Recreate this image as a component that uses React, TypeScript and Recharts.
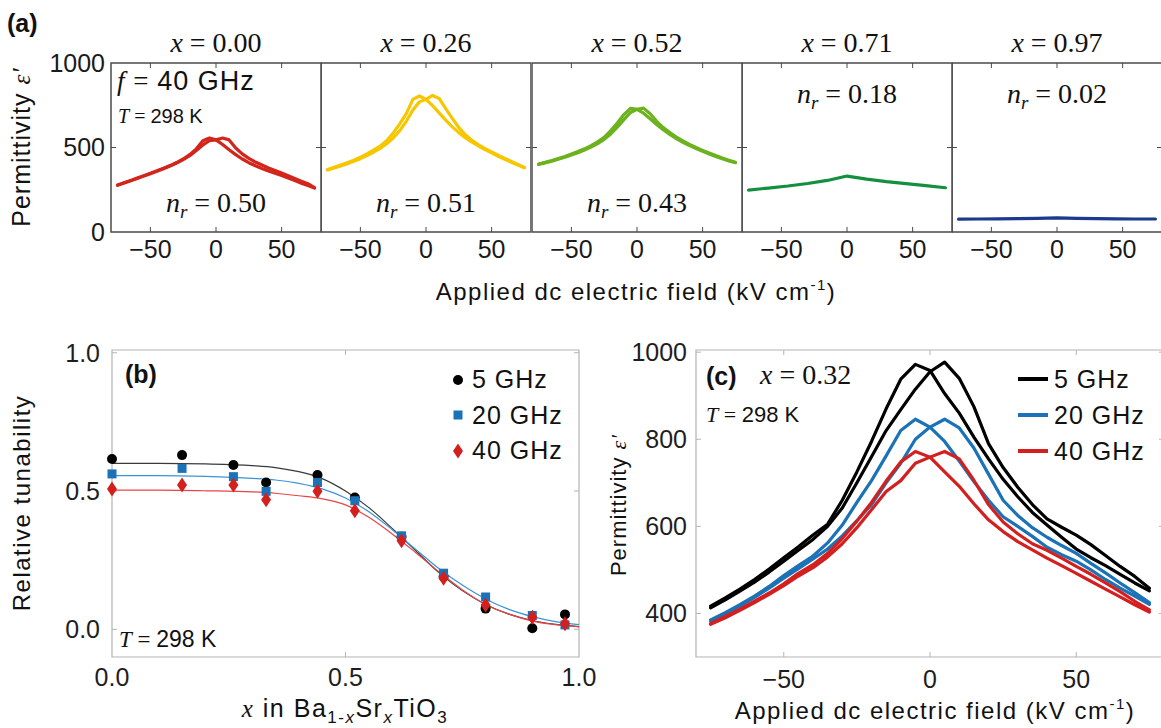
import React from 'react';
import { LineChart, Line, XAxis, YAxis, ComposedChart, Scatter, Legend, ReferenceArea, ReferenceLine } from 'recharts';

// ---------------- DATA ----------------
// shared field axis (kV/cm)
const FIELD = [-75, -70, -65, -60, -55, -50, -45, -40, -35, -30, -25, -20, -15, -10, -5, 0, 5, 10, 15, 20, 25, 30, 35, 40, 45, 50, 55, 60, 65, 70, 75];
const FIELD_SPARSE = [-75, -60, -45, -30, -15, 0, 15, 30, 45, 60, 75];

// (a) 40 GHz sweeps for each composition
const A_TITLES = ['0.00', '0.26', '0.52', '0.71', '0.97'];
const NR_VALUES = ['0.50', '0.51', '0.43', '0.18', '0.02'];
const X000_DOWN = [278, 292, 305, 319, 333, 348, 362, 377, 393, 411, 432, 458, 492, 540, 556, 545, 518, 487, 458, 432, 410, 392, 376, 361, 347, 334, 319, 304, 289, 275, 260];
const X000_UP = [276, 290, 303, 317, 331, 345, 359, 374, 390, 408, 428, 452, 482, 515, 540, 545, 556, 545, 497, 462, 436, 414, 396, 379, 364, 349, 333, 317, 301, 286, 262];
const X026_DOWN = [370, 383, 396, 410, 425, 442, 462, 484, 508, 540, 585, 640, 700, 785, 805, 785, 748, 705, 662, 622, 588, 558, 532, 509, 488, 468, 448, 430, 413, 396, 380];
const X026_UP = [367, 379, 391, 404, 418, 434, 452, 472, 495, 522, 556, 600, 655, 722, 770, 785, 808, 790, 730, 672, 618, 575, 543, 516, 493, 474, 455, 436, 418, 400, 382];
const X052_DOWN = [402, 412, 423, 435, 447, 461, 476, 492, 511, 533, 560, 600, 645, 695, 732, 726, 703, 670, 636, 605, 578, 553, 531, 511, 494, 478, 462, 447, 433, 421, 410];
const X052_UP = [400, 409, 419, 430, 442, 455, 469, 485, 503, 523, 548, 580, 620, 665, 707, 726, 733, 700, 655, 618, 588, 562, 539, 518, 500, 483, 467, 452, 438, 425, 413];
const X071 = [248, 260, 272, 287, 305, 331, 313, 298, 286, 274, 262];
const X097 = [76, 77, 78, 79, 81, 84, 81, 79, 78, 77, 77];

// (b) relative tunability vs composition
const B_X = [0, 0.15, 0.26, 0.33, 0.44, 0.52, 0.62, 0.71, 0.8, 0.9, 0.97];
const TUN_5 = [0.616, 0.63, 0.594, 0.531, 0.558, 0.477, 0.335, 0.19, 0.075, 0.004, 0.054];
const TUN_20 = [0.562, 0.582, 0.552, 0.499, 0.531, 0.465, 0.338, 0.203, 0.117, 0.05, 0.016];
const TUN_40 = [0.507, 0.522, 0.522, 0.469, 0.499, 0.429, 0.32, 0.185, 0.088, 0.044, 0.02];
const FIT_X = [0, 0.1, 0.2, 0.3, 0.35, 0.4, 0.45, 0.5, 0.55, 0.6, 0.65, 0.7, 0.75, 0.8, 0.85, 0.9, 0.95, 1.0];
const FIT_5 = [0.6, 0.6, 0.598, 0.592, 0.585, 0.57, 0.545, 0.5, 0.44, 0.365, 0.285, 0.205, 0.14, 0.09, 0.055, 0.032, 0.018, 0.01];
const FIT_20 = [0.556, 0.556, 0.553, 0.546, 0.54, 0.528, 0.508, 0.475, 0.425, 0.36, 0.29, 0.22, 0.16, 0.11, 0.072, 0.046, 0.028, 0.017];
const FIT_40 = [0.503, 0.503, 0.501, 0.497, 0.492, 0.483, 0.472, 0.45, 0.405, 0.345, 0.278, 0.208, 0.143, 0.09, 0.055, 0.03, 0.017, 0.009];
const FREQ_LABELS = ['5 GHz', '20 GHz', '40 GHz'];

// (c) x = 0.32 permittivity vs field at three frequencies
const C5_DOWN = [417, 436, 456, 478, 502, 528, 553, 580, 605, 660, 725, 795, 870, 938, 972, 958, 905, 860, 805, 755, 708, 668, 632, 603, 575, 548, 528, 510, 490, 470, 452];
const C5_UP = [413, 431, 451, 472, 495, 520, 545, 570, 600, 642, 700, 760, 820, 868, 915, 955, 977, 940, 875, 790, 735, 690, 650, 617, 598, 580, 558, 533, 508, 485, 458];
const C20_DOWN = [385, 402, 420, 440, 462, 487, 510, 532, 562, 603, 655, 705, 762, 820, 846, 828, 795, 750, 703, 660, 622, 600, 577, 552, 535, 520, 500, 478, 458, 440, 421];
const C20_UP = [383, 400, 417, 437, 458, 481, 503, 525, 548, 578, 613, 650, 700, 745, 800, 828, 846, 826, 780, 720, 660, 625, 597, 575, 556, 538, 515, 493, 470, 448, 425];
const C40_DOWN = [377, 393, 410, 428, 447, 468, 492, 512, 538, 572, 612, 655, 704, 748, 772, 759, 725, 692, 652, 615, 588, 565, 546, 527, 510, 492, 474, 456, 438, 420, 403];
const C40_UP = [375, 390, 407, 425, 444, 464, 486, 505, 530, 560, 597, 638, 680, 705, 745, 759, 772, 755, 706, 650, 610, 583, 560, 545, 527, 508, 490, 470, 450, 428, 408];

const FIELD_TICKS = [-50, 0, 50];
const A_YTICKS = [0, 500, 1000];
const B_TICKS = [0, 0.5, 1];
const C_YTICKS = [400, 600, 800, 1000];

// ---------------- STYLE ----------------
const SANS = '"Liberation Sans", Arial, Helvetica, sans-serif';
const SERIF = '"Liberation Serif", "Times New Roman", serif';
const A_COLORS = ['#d2261d', '#f6c700', '#6cb21f', '#13903f', '#1b3a8e'];
const C_BLACK = '#000000';
const C_BLUE = '#1b72b6';
const C_RED = '#d3201f';

const A_LEFTS = [111, 321, 532, 742, 952];
const A_TOP = 63;
const A_W = 210;
const A_H = 169;

const fmtMinus = (v: number) => (v < 0 ? '\u2212' + Math.abs(v) : String(v));

const rowsOf = (xs: number[], a: number[], b?: number[]) =>
  xs.map((x, k) => (b ? { x, a: a[k], b: b[k] } : { x, a: a[k] }));

const A_ROWS = [
  rowsOf(FIELD, X000_DOWN, X000_UP),
  rowsOf(FIELD, X026_DOWN, X026_UP),
  rowsOf(FIELD, X052_DOWN, X052_UP),
  rowsOf(FIELD_SPARSE, X071),
  rowsOf(FIELD_SPARSE, X097),
];
const A_KEYS = [['a', 'b'], ['a', 'b'], ['a', 'b'], ['a'], ['a']];

const C_ROWS = FIELD.map((x, k) => ({
  x,
  a5: C5_DOWN[k], b5: C5_UP[k],
  a20: C20_DOWN[k], b20: C20_UP[k],
  a40: C40_DOWN[k], b40: C40_UP[k],
}));

const pts = (xs: number[], ys: number[]) => xs.map((x, k) => ({ x, y: ys[k] }));

// frame box + inward tick marks, drawn in data space through the chart's scales
function frameMarks(
  xd: [number, number], yd: [number, number], xt: number[], yt: number[],
  dx: number, dy: number, color: string, sw: number,
) {
  const out: React.ReactNode[] = [
    <ReferenceArea key="frame" x1={xd[0]} x2={xd[1]} y1={yd[0]} y2={yd[1]} fill="none" fillOpacity={0}
      stroke={color} strokeWidth={sw} ifOverflow="visible" />,
  ];
  xt.forEach((x) => {
    out.push(<ReferenceLine key={'xb' + x} segment={[{ x, y: yd[0] }, { x, y: yd[0] + dy }]} stroke={color} strokeWidth={1} ifOverflow="visible" />);
    out.push(<ReferenceLine key={'xt' + x} segment={[{ x, y: yd[1] }, { x, y: yd[1] - dy }]} stroke={color} strokeWidth={1} ifOverflow="visible" />);
  });
  yt.forEach((y) => {
    out.push(<ReferenceLine key={'yl' + y} segment={[{ x: xd[0], y }, { x: xd[0] + dx, y }]} stroke={color} strokeWidth={1} ifOverflow="visible" />);
    out.push(<ReferenceLine key={'yr' + y} segment={[{ x: xd[1], y }, { x: xd[1] - dx, y }]} stroke={color} strokeWidth={1} ifOverflow="visible" />);
  });
  return out;
}

// ---------------- SHAPES ----------------
const Circle = (p: any) => <circle cx={p.cx} cy={p.cy} r={5} fill={C_BLACK} />;
const Square = (p: any) => <rect x={p.cx - 4.5} y={p.cy - 4.5} width={9} height={9} fill={C_BLUE} />;
const Diamond = (p: any) => (
  <path d={`M${p.cx},${p.cy - 7.5} L${p.cx + 5},${p.cy} L${p.cx},${p.cy + 7.5} L${p.cx - 5},${p.cy} Z`} fill={C_RED} />
);

const FRAME_A = '#4a4a4a';
const FRAME_BC = '#b4b4b4';
const tickStyle = { fill: '#1a1a1a', fontSize: 25, fontFamily: SANS };

function FieldPanel({ index }: { index: number }) {
  const showY = index === 0;
  const yw = showY ? 80 : 0;
  const m = 22;
  const xh = 40;
  const width = yw + A_W + m;
  const height = m + A_H + xh;
  return (
    <div style={{ position: 'absolute', left: A_LEFTS[index] - yw, top: A_TOP - m, width, height }}>
      <LineChart width={width} height={height} data={A_ROWS[index]} margin={{ top: m, right: m, bottom: 0, left: 0 }}>
        <XAxis dataKey="x" type="number" domain={[-80, 80]} ticks={FIELD_TICKS} interval={0} height={xh}
          tickFormatter={fmtMinus} axisLine={false} tickLine={false} tickSize={-5} tickMargin={13} tick={tickStyle} />
        <YAxis type="number" domain={[0, 1000]} ticks={A_YTICKS} interval={0} width={yw}
          axisLine={false} tickLine={false} tickSize={-5} tickMargin={11} tick={showY ? tickStyle : false} />
        {A_KEYS[index].map((k) => (
          <Line key={k} dataKey={k} type="linear" stroke={A_COLORS[index]} strokeWidth={3.2} dot={false}
            strokeLinejoin="round" strokeLinecap="round" isAnimationActive={false} />
        ))}
        {frameMarks([-80, 80], [0, 1000], FIELD_TICKS, [500], 3.8, 30, FRAME_A, 1.5)}
      </LineChart>
    </div>
  );
}

function LegendB() {
  const marks = [
    <circle key="c" cx={9} cy={9} r={5} fill={C_BLACK} />,
    <rect key="s" x={4.5} y={4.5} width={9} height={9} fill={C_BLUE} />,
    <path key="d" d="M9,1.5 L14,9 L9,16.5 L4,9 Z" fill={C_RED} />,
  ];
  return (
    <div style={{ fontFamily: SANS, fontSize: 25, color: '#111', letterSpacing: 1 }}>
      {FREQ_LABELS.map((lab, i) => (
        <div key={lab} style={{ display: 'flex', alignItems: 'center', height: 35.5 }}>
          <svg width={18} height={18} style={{ marginRight: 5 }}>{marks[i]}</svg>
          <span>{lab}</span>
        </div>
      ))}
    </div>
  );
}

function LegendC() {
  const cols = [C_BLACK, C_BLUE, C_RED];
  return (
    <div style={{ fontFamily: SANS, fontSize: 25, color: '#111', letterSpacing: 1 }}>
      {FREQ_LABELS.map((lab, i) => (
        <div key={lab} style={{ display: 'flex', alignItems: 'center', height: 36 }}>
          <div style={{ width: 30, height: 4, background: cols[i], marginRight: 6 }} />
          <span>{lab}</span>
        </div>
      ))}
    </div>
  );
}

function PanelB() {
  const yw = 70, m = 22, xh = 45, pw = 467, ph = 307;
  const width = yw + pw + m, height = m + ph + xh;
  const fmt = (v: number) => v.toFixed(1);
  const tk = { fill: '#1e1e1e', fontSize: 25, fontFamily: SANS };
  return (
    <div style={{ position: 'absolute', left: 112 - yw, top: 350 - m, width, height }}>
      <ComposedChart width={width} height={height} margin={{ top: m, right: m, bottom: 0, left: 0 }}>
        <XAxis dataKey="x" type="number" domain={[0, 1]} ticks={B_TICKS} interval={0} height={xh} tickFormatter={fmt}
          axisLine={false} tickLine={false} tickSize={-5} tickMargin={16} tick={tk} />
        <YAxis dataKey="y" type="number" domain={[-0.1, 1.01]} ticks={B_TICKS} interval={0} width={yw} tickFormatter={fmt}
          axisLine={false} tickLine={false} tickSize={-5} tickMargin={17} tick={tk} />
        {frameMarks([0, 1], [-0.1, 1.01], [0.5], B_TICKS, 0.0107, 0.018, FRAME_BC, 1.2)}
        <Line data={pts(FIT_X, FIT_5)} dataKey="y" type="monotone" stroke="#3a3a3a" strokeWidth={1.2} dot={false} isAnimationActive={false} legendType="none" />
        <Line data={pts(FIT_X, FIT_20)} dataKey="y" type="monotone" stroke="#3b94d6" strokeWidth={1.2} dot={false} isAnimationActive={false} legendType="none" />
        <Line data={pts(FIT_X, FIT_40)} dataKey="y" type="monotone" stroke="#e84444" strokeWidth={1.2} dot={false} isAnimationActive={false} legendType="none" />
        <Scatter name="5 GHz" data={pts(B_X, TUN_5)} shape={Circle} isAnimationActive={false} />
        <Scatter name="20 GHz" data={pts(B_X, TUN_20)} shape={Square} isAnimationActive={false} />
        <Scatter name="40 GHz" data={pts(B_X, TUN_40)} shape={Diamond} isAnimationActive={false} />
        <Legend layout="horizontal" verticalAlign="middle" align="center" content={() => <LegendB />}
          wrapperStyle={{ position: 'absolute', left: 407, top: 34, width: 140, height: 110 }} />
      </ComposedChart>
    </div>
  );
}

function PanelC() {
  const yw = 75, m = 22, xh = 45, pw = 468, ph = 307;
  const width = yw + pw + m, height = m + ph + xh;
  const tk = { fill: '#1e1e1e', fontSize: 25, fontFamily: SANS };
  const lines: [string, string][] = [
    ['a5', C_BLACK], ['b5', C_BLACK], ['a20', C_BLUE], ['b20', C_BLUE], ['a40', C_RED], ['b40', C_RED],
  ];
  return (
    <div style={{ position: 'absolute', left: 696 - yw, top: 350 - m, width, height }}>
      <LineChart width={width} height={height} data={C_ROWS} margin={{ top: m, right: m, bottom: 0, left: 0 }}>
        <XAxis dataKey="x" type="number" domain={[-80, 80]} ticks={FIELD_TICKS} interval={0} height={xh} tickFormatter={fmtMinus}
          axisLine={false} tickLine={false} tickSize={-5} tickMargin={18} tick={tk} />
        <YAxis type="number" domain={[300, 1005]} ticks={C_YTICKS} interval={0} width={yw}
          axisLine={false} tickLine={false} tickSize={-5} tickMargin={14} tick={tk} />
        {frameMarks([-80, 80], [300, 1005], FIELD_TICKS, C_YTICKS, 1.7, 11.5, FRAME_BC, 1.2)}
        {lines.map(([k, c]) => (
          <Line key={k} dataKey={k} type="linear" stroke={c} strokeWidth={3.2} dot={false}
            strokeLinejoin="round" strokeLinecap="round" isAnimationActive={false} />
        ))}
        <Legend layout="horizontal" verticalAlign="middle" align="center" content={() => <LegendC />}
          wrapperStyle={{ position: 'absolute', left: 397, top: 33, width: 150, height: 110 }} />
      </LineChart>
    </div>
  );
}

function Overlay() {
  const nrY = [212, 212, 212, 103, 103];
  const spaced = { letterSpacing: 1.5 } as React.CSSProperties;
  return (
    <svg width={1161} height={728} style={{ position: 'absolute', left: 0, top: 0, pointerEvents: 'none' }}>
      <g fill="#111" style={{ whiteSpace: 'pre' }}>
        <text x={7} y={32} fontFamily={SANS} fontWeight="bold" fontSize={25}>(a)</text>
        {A_TITLES.map((t, i) => (
          <text key={t} x={A_LEFTS[i] + A_W / 2} y={52} textAnchor="middle" fontFamily={SERIF} fontSize={28}>
            <tspan fontStyle="italic">x</tspan> = {t}
          </text>
        ))}
        {NR_VALUES.map((v, i) => (
          <text key={'nr' + i} x={A_LEFTS[i] + A_W / 2} y={nrY[i]} textAnchor="middle" fontFamily={SERIF} fontSize={28}>
            <tspan fontStyle="italic">n</tspan>
            <tspan fontStyle="italic" fontSize={19} dy={6}>r</tspan>
            <tspan dy={-6}> = {v}</tspan>
          </text>
        ))}
        <text x={117} y={90} fontSize={27} style={{ letterSpacing: 1 }}>
          <tspan fontFamily={SERIF} fontStyle="italic">f</tspan>
          <tspan fontFamily={SERIF}> = </tspan>
          <tspan fontFamily={SANS}>40 GHz</tspan>
        </text>
        <text x={118} y={123} fontSize={20}>
          <tspan fontFamily={SERIF} fontStyle="italic">T</tspan>
          <tspan fontFamily={SERIF}> = </tspan>
          <tspan fontFamily={SANS}>298 K</tspan>
        </text>
        <text x={30} y={147} transform="rotate(-90 30 147)" textAnchor="middle" fontFamily={SANS} fontSize={25} style={{ letterSpacing: 1 }}>
          Permittivity <tspan fontFamily={SERIF} fontStyle="italic">ε′</tspan>
        </text>
        <text x={636} y={300} textAnchor="middle" fontFamily={SANS} fontSize={24} style={spaced}>
          Applied dc electric field (kV cm<tspan fontSize={15} dy={-10}>-1</tspan><tspan dy={10}>)</tspan>
        </text>

        {/* (b) */}
        <text x={125} y={383} fontFamily={SANS} fontWeight="bold" fontSize={25}>(b)</text>
        <text x={119} y={647} fontSize={23}>
          <tspan fontFamily={SERIF} fontStyle="italic">T</tspan>
          <tspan fontFamily={SERIF}> = </tspan>
          <tspan fontFamily={SANS}>298 K</tspan>
        </text>
        <text x={30} y={503} transform="rotate(-90 30 503)" textAnchor="middle" fontFamily={SANS} fontSize={24} style={spaced}>
          Relative  tunability
        </text>
        <text x={345} y={717} textAnchor="middle" fontFamily={SANS} fontSize={25} style={spaced}>
          <tspan fontFamily={SERIF} fontStyle="italic">x</tspan>
          <tspan> in Ba</tspan>
          <tspan fontSize={17} dy={6}>1-</tspan>
          <tspan fontSize={17} fontStyle="italic">x</tspan>
          <tspan dy={-6}>Sr</tspan>
          <tspan fontSize={17} fontStyle="italic" dy={6}>x</tspan>
          <tspan dy={-6}>TiO</tspan>
          <tspan fontSize={17} dy={6}>3</tspan>
        </text>

        {/* (c) */}
        <text x={706} y={385} fontFamily={SANS} fontWeight="bold" fontSize={25}>(c)</text>
        <text x={760} y={384} fontFamily={SERIF} fontSize={28}>
          <tspan fontStyle="italic">x</tspan> = 0.32
        </text>
        <text x={706} y={422} fontSize={22}>
          <tspan fontFamily={SERIF} fontStyle="italic">T</tspan>
          <tspan fontFamily={SERIF}> = </tspan>
          <tspan fontFamily={SANS}>298 K</tspan>
        </text>
        <text x={626} y={505} transform="rotate(-90 626 505)" textAnchor="middle" fontFamily={SANS} fontSize={22} style={{ letterSpacing: 1 }}>
          Permittivity <tspan fontFamily={SERIF} fontStyle="italic">ε′</tspan>
        </text>
        <text x={935} y={719} textAnchor="middle" fontFamily={SANS} fontSize={24} style={spaced}>
          Applied dc electric field (kV cm<tspan fontSize={15} dy={-10}>-1</tspan><tspan dy={10}>)</tspan>
        </text>
      </g>
    </svg>
  );
}

export default function App() {
  return (
    <div style={{ position: 'absolute', left: 0, top: 0, width: 1161, height: 728, background: '#fff', overflow: 'hidden', fontFamily: SANS }}>
      {A_TITLES.map((_, i) => (
        <FieldPanel key={i} index={i} />
      ))}
      <PanelB />
      <PanelC />
      <Overlay />
    </div>
  );
}
